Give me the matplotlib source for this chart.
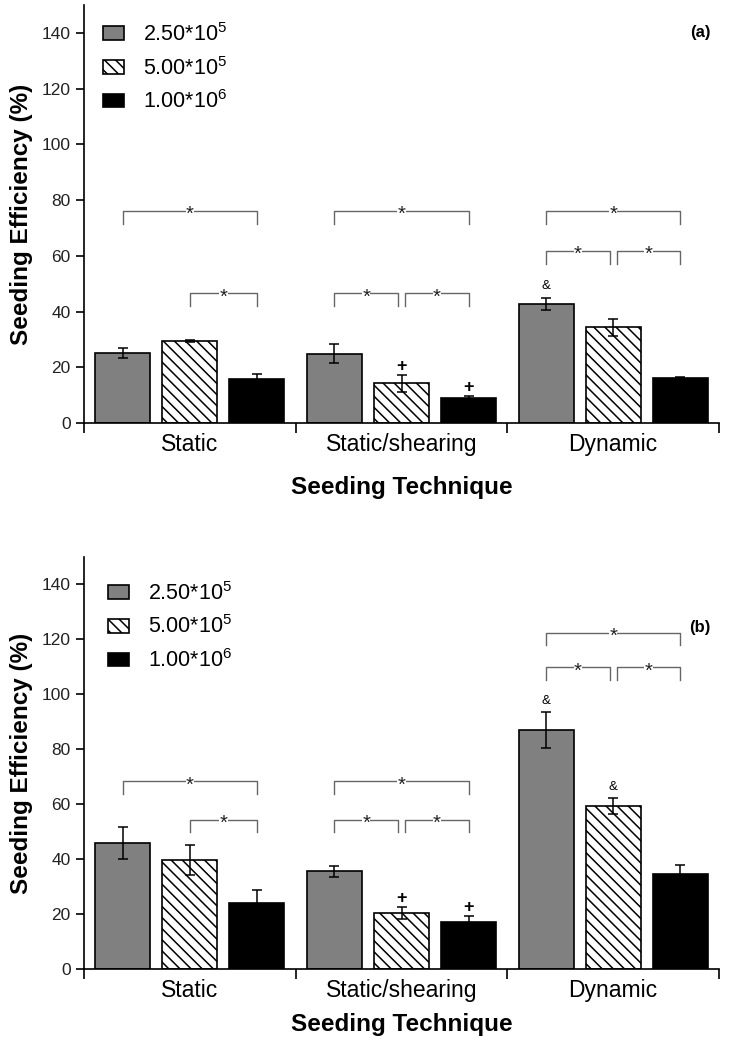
import matplotlib
matplotlib.use('Agg')
import matplotlib.pyplot as plt
import matplotlib.patches as mpatches
import numpy as np

plt.rcParams['font.family'] = ['Liberation Sans', 'DejaVu Sans']
plt.rcParams['mathtext.fontset'] = 'custom'
plt.rcParams['mathtext.rm'] = 'Liberation Sans'
plt.rcParams['hatch.linewidth'] = 1.1

techniques = ['Static', 'Static/shearing', 'Dynamic']
densities = [r'2.50*10$^{5}$', r'5.00*10$^{5}$', r'1.00*10$^{6}$']

# seeding efficiency (%) per density, one value per technique
eff_a = [[25.2, 24.9, 42.8],
         [29.4, 14.2, 34.3],
         [15.9, 9.1, 16.3]]
err_a = [[1.8, 3.3, 2.1],
         [0.3, 3.2, 3.1],
         [1.8, 0.5, 0.3]]

eff_b = [[45.8, 35.5, 87.0],
         [39.7, 20.3, 59.4],
         [24.2, 17.2, 34.6]]
err_b = [[5.9, 1.9, 6.4],
         [5.4, 2.2, 2.8],
         [4.6, 2.0, 3.1]]

# significance brackets: (technique, bar i, bar j, level)
sig_a = [(0, 0, 2, 76.0), (0, 1, 2, 46.5),
         (1, 0, 2, 76.0), (1, 0, 1, 46.5), (1, 1, 2, 46.5),
         (2, 0, 2, 76.0), (2, 0, 1, 61.7), (2, 1, 2, 61.7)]
sig_b = [(0, 0, 2, 68.3), (0, 1, 2, 54.3),
         (1, 0, 2, 68.3), (1, 0, 1, 54.3), (1, 1, 2, 54.3),
         (2, 0, 2, 122.4), (2, 0, 1, 109.8), (2, 1, 2, 109.8)]

# symbols over bars: (technique, bar, symbol)
marks_a = [(1, 1, '+'), (1, 2, '+'), (2, 0, '&')]
marks_b = [(1, 1, '+'), (1, 2, '+'), (2, 0, '&'), (2, 1, '&')]

step = 0.317
width = 0.26
fills = ['#808080', 'white', 'black']
hatches = [None, '\\\\\\', None]


def draw_panel(ax, eff, err, sig, marks, tag, tag_y, leg_anchor, xlab_y):
    x = np.arange(len(techniques))
    for k in range(3):
        xs = x + (k - 1) * step
        ax.bar(xs, eff[k], width, color=fills[k], hatch=hatches[k],
               edgecolor='black', linewidth=1.2, zorder=2)
        ax.errorbar(xs, eff[k], yerr=err[k], fmt='none', ecolor='black',
                    elinewidth=1.1, capsize=3.5, capthick=1.1, zorder=3)

    leg = 4.5
    for g, i, j, lvl in sig:
        x1 = g + (i - 1) * step
        x2 = g + (j - 1) * step
        # split neighbouring brackets that meet at the middle bar
        if j - i == 1 and g > 0:
            if i == 1:
                x1 += 0.017
            else:
                x2 -= 0.017
        ax.plot([x1, x1, x2, x2], [lvl - leg, lvl, lvl, lvl - leg],
                color='#666666', linewidth=1.0, zorder=1)
        ax.annotate('*', ((x1 + x2) / 2, lvl), xytext=(0, -6.5),
                    textcoords='offset points', ha='center', va='baseline',
                    fontsize=14.5, color='#222222', zorder=4,
                    bbox=dict(facecolor='white', edgecolor='none', pad=0.2))

    for g, k, s in marks:
        top = eff[k][g] + err[k][g]
        if s == '+':
            ax.annotate(s, (g + (k - 1) * step, top), xytext=(0, 0),
                        textcoords='offset points', ha='center', va='bottom',
                        fontsize=13, fontweight='bold')
        else:
            ax.annotate(s, (g + (k - 1) * step, top), xytext=(0, 4),
                        textcoords='offset points', ha='center', va='bottom',
                        fontsize=9.5)

    ax.set_xlim(-0.5, 2.5)
    ax.set_ylim(0, 150)
    ax.set_yticks(np.arange(0, 141, 20))
    ax.set_xticks([-0.5, 0.5, 1.5, 2.5])
    ax.set_xticklabels([])
    ax.set_xticks(x, minor=True)
    ax.set_xticklabels(techniques, minor=True, fontsize=16.5)
    ax.tick_params(axis='x', which='minor', length=0, pad=7)
    ax.tick_params(axis='x', which='major', length=7, width=1.2, direction='out')
    ax.tick_params(axis='y', length=6, width=1.2, direction='out', labelsize=12.5,
                   labelcolor='#222222')
    for side in ['top', 'right']:
        ax.spines[side].set_visible(False)
    for side in ['left', 'bottom']:
        ax.spines[side].set_linewidth(1.2)

    ax.set_ylabel('Seeding Efficiency (%)', fontsize=17.5, fontweight='bold')
    ax.yaxis.set_label_coords(-0.08, 0.5)
    ax.set_xlabel('Seeding Technique', fontsize=17.5, fontweight='bold')
    ax.xaxis.set_label_coords(0.5, xlab_y)

    ax.text(0.97, tag_y, tag, transform=ax.transAxes, ha='center', va='center',
            fontsize=12, fontweight='bold')

    handles = [mpatches.Patch(facecolor=fills[k], hatch=hatches[k],
                              edgecolor='black', linewidth=1.2) for k in range(3)]
    ax.legend(handles, densities, loc='upper left', bbox_to_anchor=leg_anchor,
              frameon=False, fontsize=15.5, handlelength=0.95, handleheight=0.6,
              handletextpad=0.9, labelspacing=0.5, borderpad=0, borderaxespad=0)


fig = plt.figure(figsize=(7.29, 10.57), dpi=100)
ax_a = fig.add_axes([84 / 729, 1 - 423 / 1057, 635 / 729, 418 / 1057])
ax_b = fig.add_axes([84 / 729, 1 - 969 / 1057, 635 / 729, 412 / 1057])

draw_panel(ax_a, eff_a, err_a, sig_a, marks_a, '(a)', 0.935, (0.03, 0.957), -0.127)
draw_panel(ax_b, eff_b, err_b, sig_b, marks_b, '(b)', 0.828, (0.038, 0.94), -0.108)

fig.savefig('out.png', dpi=100, facecolor='white')
